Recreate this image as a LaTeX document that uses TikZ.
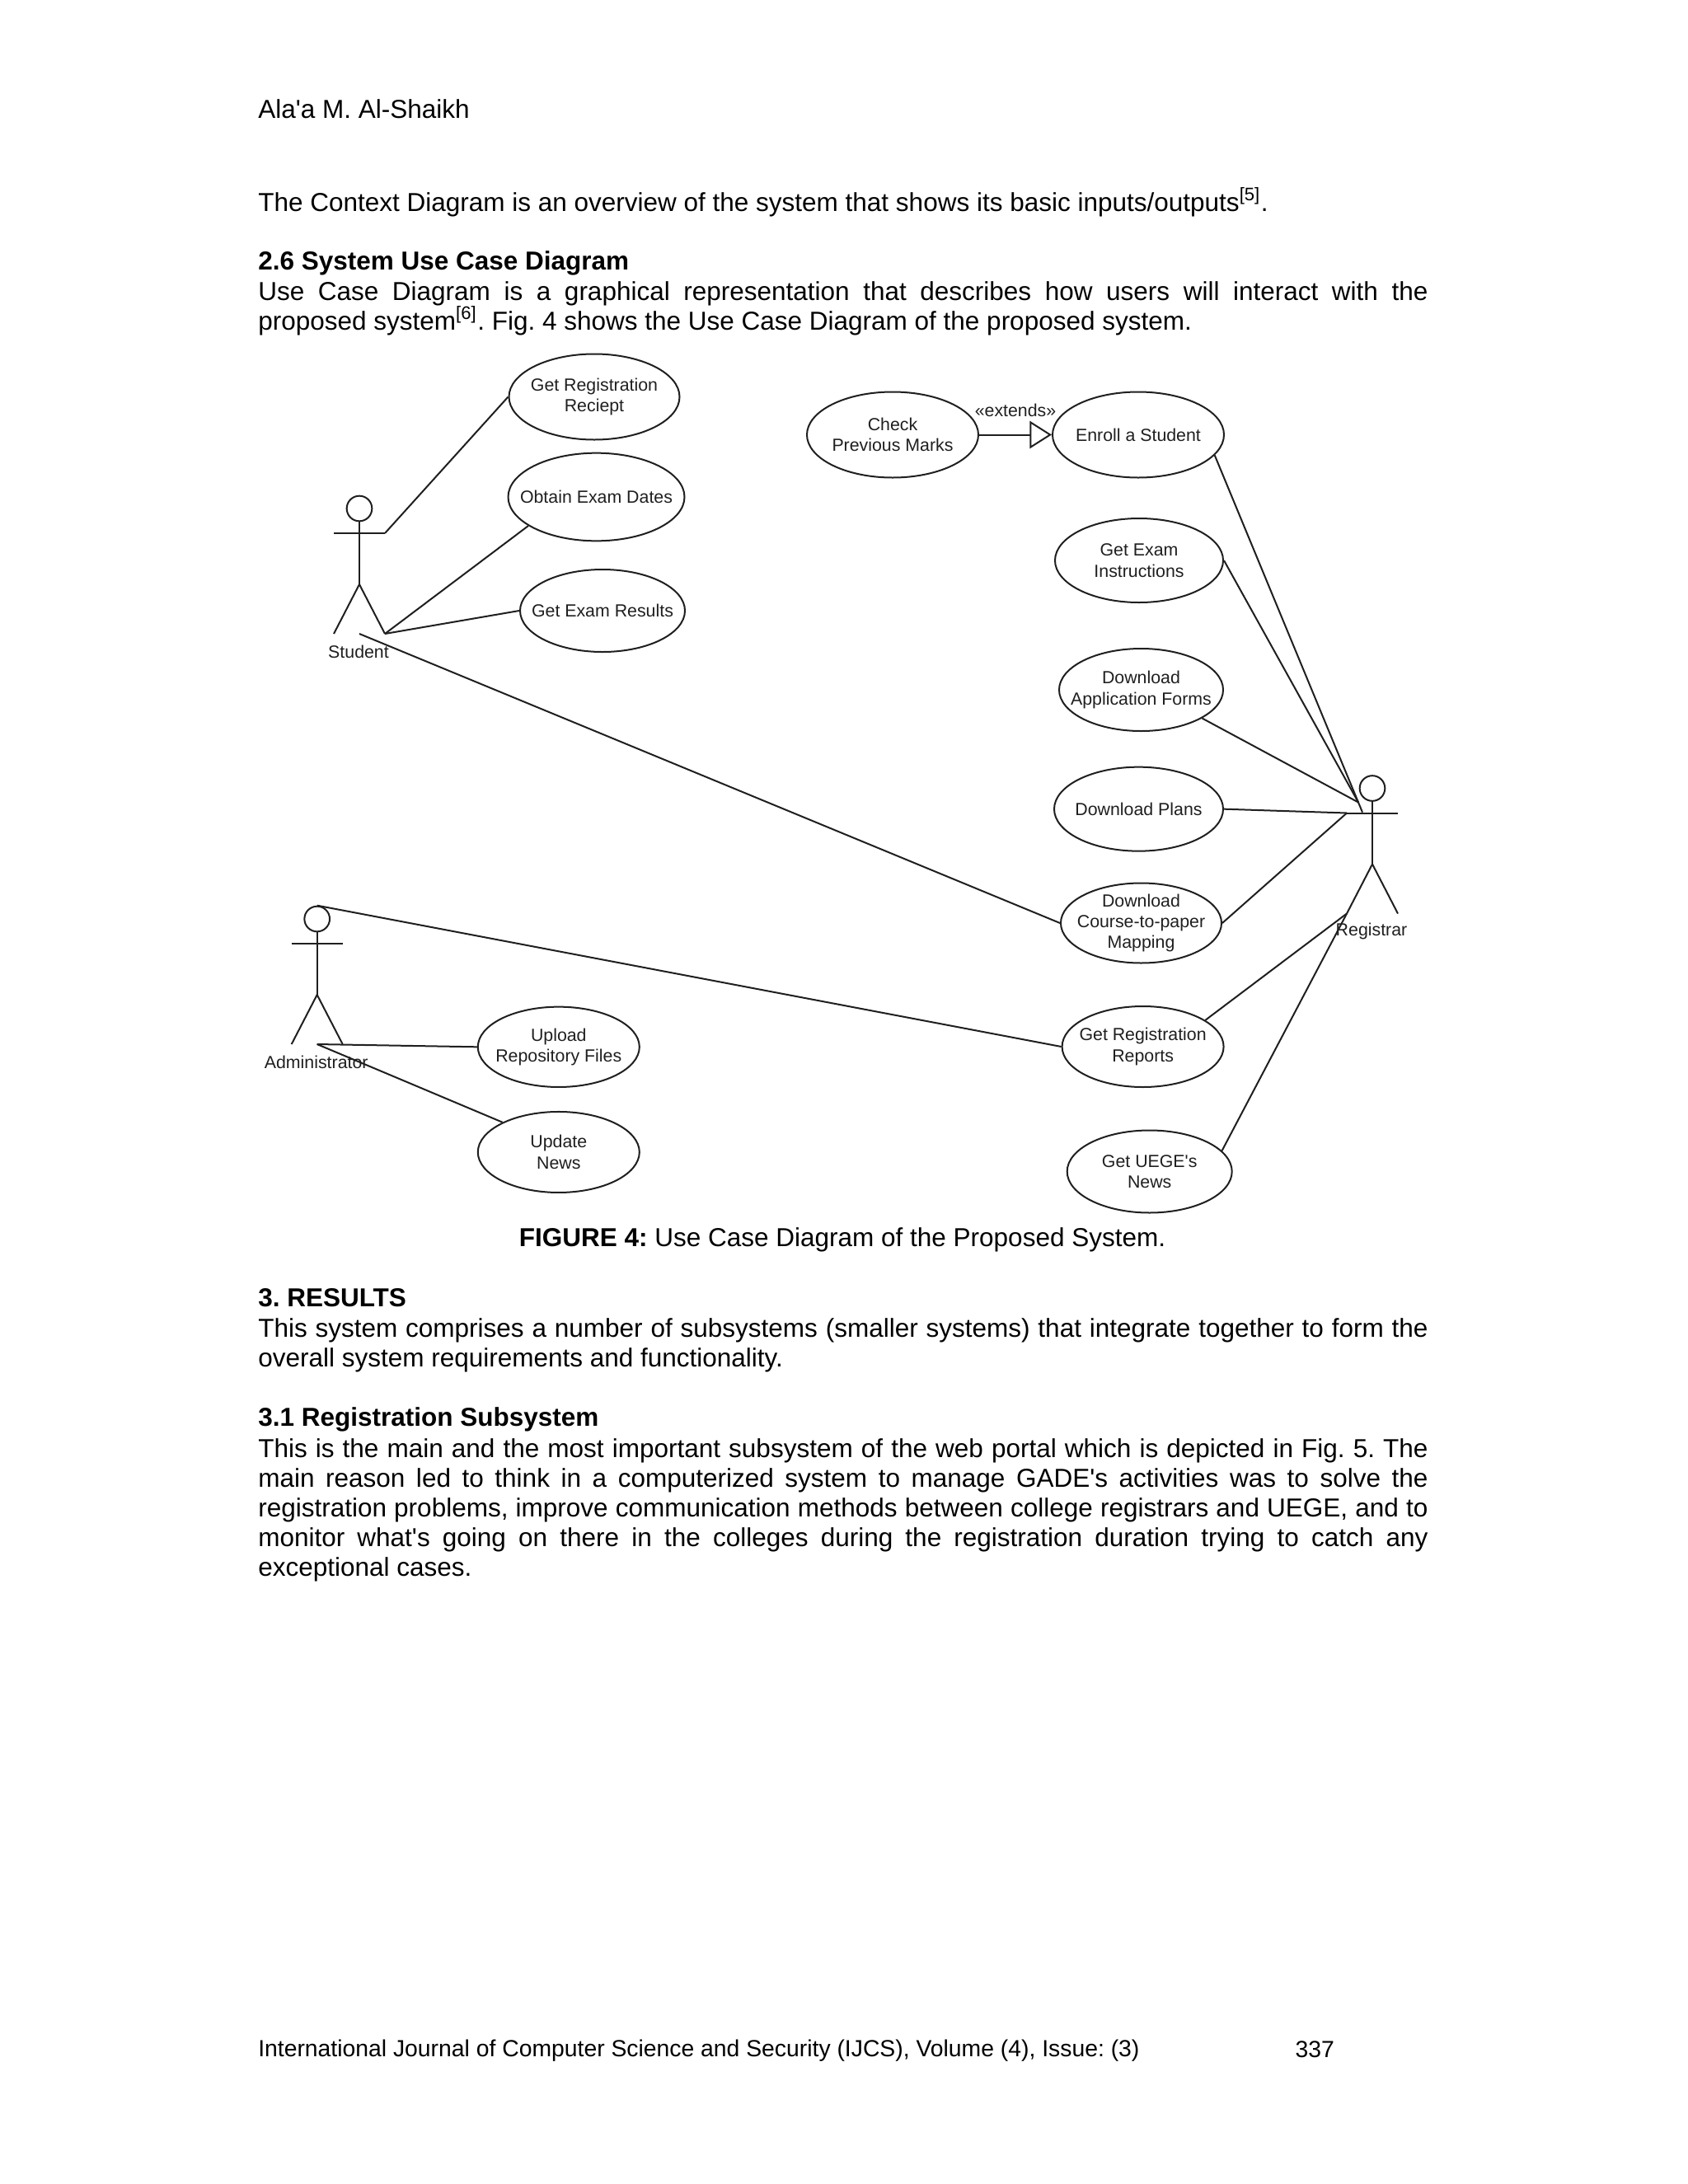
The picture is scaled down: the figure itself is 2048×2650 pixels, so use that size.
\documentclass[tikz,border=0pt]{standalone}
\usepackage{fontspec}
\defaultfontfeatures[\rmfamily]{}
\setmainfont{Liberation Sans}
\frenchspacing
\usetikzlibrary{shapes.geometric, arrows.meta}

\tikzset{
    usecase/.style={ellipse,draw=inkc,line width=0.6pt,inner sep=-12pt,align=center,
        font=\fontsize{6.4}{7.6}\selectfont,text=inkc,minimum width=60pt,minimum height=30pt},
    assoc/.style={draw=inkc,line width=0.6pt},
    actorhead/.style={circle,draw=inkc,line width=0.6pt,inner sep=0pt,minimum size=9.2pt},
    actorlabel/.style={inner sep=0pt,font=\fontsize{6.4}{7.6}\selectfont,text=inkc},
    line/.style={anchor=west,inner sep=0pt,font=\fontsize{9.45}{10.77}\selectfont},
    footline/.style={anchor=west,inner sep=0pt,font=\fontsize{8.5}{10.77}\selectfont},
    para/.style={anchor=north west,inner sep=0pt,text width=425.8pt,align=justify,
        font=\fontsize{9.45}{10.77}\selectfont}
}
\definecolor{inkc}{gray}{0.12}

% one stick figure, head centre at (#2,#3)
\newcommand{\stickman}[4]{
    \node[actorhead] (#1head) at (#2,#3) {};
    \coordinate (#1neck) at (#2,#3+30);
    \coordinate (#1arml) at (#2-31,#3+30);
    \coordinate (#1armr) at (#2+31,#3+30);
    \coordinate (#1hip) at (#2,#3+92);
    \coordinate (#1footl) at (#2-31,#3+152);
    \coordinate (#1footr) at (#2+31,#3+152);
    \coordinate (#1base) at (#2,#3+152);
    \draw[assoc] (#1head) -- (#1hip);
    \draw[assoc] (#1arml) -- (#1armr);
    \draw[assoc] (#1footl) -- (#1hip) -- (#1footr);
    \node[actorlabel] (#1name) at (#2-1,#3+173.5) {#4};
}

\begin{document}
\begin{tikzpicture}[x=0.3pt,y=-0.3pt]
    \useasboundingbox (0,0) rectangle (2048,2650);

    % page text
    \node[line] (author) at (312.6,132) {Ala'a M. Al-Shaikh};
    \node[line] (intro) at (312.6,245) {The Context Diagram is an overview of the system that shows its basic inputs/outputs\textsuperscript{[5]}.};
    \node[line] (headuse) at (312.6,319) {\bfseries 2.6 System Use Case Diagram};
    \node[para] (parause) at (312.6,341) {Use Case Diagram is a graphical representation that describes how users will interact with the\linebreak
        proposed system\textsuperscript{[6]}. Fig. 4 shows the Use Case Diagram of the proposed system.};
    \node[line,anchor=center] (caption) at (1022,1504.5) {\textbf{FIGURE 4:} Use Case Diagram of the Proposed System.};
    \node[line] (headres) at (312.6,1575) {\bfseries 3. RESULTS};
    \node[para] (parares) at (312.6,1599) {This system comprises a number of subsystems (smaller systems) that integrate together to form the\linebreak
        overall system requirements and functionality.};
    \node[line] (headreg) at (312.6,1722) {\bfseries 3.1 Registration Subsystem};
    \node[para] (parareg) at (312.6,1745) {This is the main and the most important subsystem of the web portal which is depicted in Fig. 5. The\linebreak
        main reason led to think in a computerized system to manage GADE's activities was to solve the\linebreak
        registration problems, improve communication methods between college registrars and UEGE, and to\linebreak
        monitor what's going on there in the colleges during the registration duration trying to catch any\linebreak
        exceptional cases.};
    \node[footline] (footer) at (312.6,2488.5) {International Journal of Computer Science and Security (IJCS), Volume (4), Issue: (3)};
    \node[footline] (pageno) at (1571,2487) {337};

    % use cases
    \node[usecase,minimum width=62.1pt,minimum height=31.2pt] (reciept) at (721,481.5) {Get Registration\\Reciept};
    \node[usecase,minimum width=64.2pt,minimum height=32pt] (obtain) [below of=reciept,node distance=36.45pt,xshift=0.75pt] {Obtain Exam Dates};
    \node[usecase] (results) [below of=obtain,node distance=41.4pt,xshift=2.25pt] {Get Exam Results};

    \node[usecase,minimum width=62.4pt,minimum height=31.2pt] (enroll) at (1381,527.5) {Enroll a Student};
    \node[usecase,minimum width=62.4pt,minimum height=31.2pt] (check) [left of=enroll,node distance=89.4pt] {Check\\Previous Marks};
    \node[usecase,minimum width=61.2pt,minimum height=30.6pt] (instr) [below of=enroll,node distance=45.75pt,xshift=0.3pt] {Get Exam\\Instructions};
    \node[usecase,minimum width=59.7pt] (forms) [below of=instr,node distance=47.1pt,xshift=0.75pt] {Download\\Application Forms};
    \node[usecase,minimum width=61.5pt,minimum height=30.6pt] (plans) [below of=forms,node distance=43.4pt,xshift=-0.9pt] {Download Plans};
    \node[usecase,minimum width=58.5pt,minimum height=29.1pt] (mapping) [below of=plans,node distance=41.5pt,xshift=0.9pt] {Download\\Course-to-paper\\Mapping};
    \node[usecase,minimum width=58.8pt,minimum height=29.4pt] (reports) [below of=mapping,node distance=45pt,xshift=0.63pt] {Get Registration\\Reports};
    \node[usecase] (news) [below of=reports,node distance=45.45pt,xshift=2.43pt] {Get UEGE's\\News};

    \node[usecase,minimum width=58.8pt,minimum height=29.2pt] (upload) at (677.8,1270.3) {Upload\\Repository Files};
    \node[usecase,minimum width=58.8pt,minimum height=29.4pt] (update) [below of=upload,node distance=38.3pt] {Update\\News};

    % actors
    \stickman{student}{436}{617}{Student}
    \stickman{registrar}{1665}{956.5}{Registrar}
    \stickman{admin}{384.7}{1115}{Administrator}
    \coordinate (regneara) at (1653,985.6);
    \coordinate (regnearb) at (1648,973.5);

    % associations
    \draw[assoc] (studentarmr) -- (reciept.west);
    \draw[assoc] (studentfootr) -- (obtain.203.6);
    \draw[assoc] (studentfootr) -- (results.west);
    \draw[assoc] (studentbase) -- (mapping.west);
    \draw[assoc] (enroll.-15.3) -- (regneara);
    \draw[assoc] (instr.east) -- (regnearb);
    \draw[assoc] (forms.-25.4) -- (regnearb);
    \draw[assoc] (plans.east) -- (registrararml);
    \draw[assoc] (mapping.east) -- (registrararml);
    \draw[assoc] (reports.23.5) -- (registrarfootl);
    \draw[assoc] (news.16.6) -- (registrarfootl);
    \draw[assoc] (adminhead.north) -- (reports.west);
    \draw[assoc] (adminbase) -- (upload.west);
    \draw[assoc] (adminbase) -- (update.152.3);

    % extends
    \draw[assoc,-{Triangle[open,length=8pt,width=10pt]}] (check) -- node[actorlabel,yshift=9pt] (extlabel) {«extends»} (enroll);
\end{tikzpicture}
\end{document}
